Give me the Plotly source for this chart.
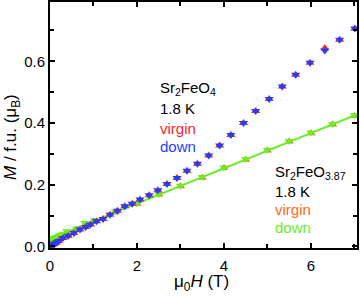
import plotly.graph_objects as go

# Sr2FeO4 (virgin and down nearly identical)
h_fe4 = [0.0, 0.02, 0.05, 0.1, 0.15, 0.2, 0.3, 0.42, 0.55, 0.69, 0.82, 0.93, 1.07, 1.22, 1.38, 1.55, 1.72,
         1.89, 2.07, 2.28, 2.48, 2.69, 2.92, 3.15, 3.39, 3.65, 3.90, 4.16, 4.45, 4.73, 5.04, 5.34, 5.65,
         5.98, 6.32, 6.66, 7.01]
m_fe4_down = [0.0, 0.002, 0.005, 0.009, 0.013, 0.018, 0.027, 0.035, 0.044, 0.055, 0.063, 0.071, 0.082, 0.089,
              0.103, 0.116, 0.130, 0.138, 0.152, 0.166, 0.182, 0.202, 0.222, 0.245, 0.268, 0.295, 0.327,
              0.361, 0.400, 0.439, 0.478, 0.518, 0.556, 0.595, 0.635, 0.670, 0.706]
m_fe4_virgin = [0.0, 0.002, 0.005, 0.009, 0.013, 0.018, 0.027, 0.035, 0.044, 0.055, 0.063, 0.071, 0.082, 0.089,
                0.103, 0.116, 0.130, 0.138, 0.152, 0.166, 0.182, 0.202, 0.222, 0.245, 0.268, 0.295, 0.327,
                0.361, 0.400, 0.439, 0.478, 0.518, 0.556, 0.595, 0.642, 0.670, 0.706]

# Sr2FeO3.87
h_387_down = [0.02, 0.05, 0.1, 0.15, 0.2, 0.25, 0.3, 0.38, 0.61, 0.80, 1.03, 1.5, 2.0, 2.5, 3.0, 3.5, 4.0,
              4.5, 5.0, 5.5, 6.0, 6.5, 7.0]
m_387_down = [0.022, 0.025, 0.028, 0.031, 0.034, 0.037, 0.040, 0.049, 0.058, 0.076, 0.085, 0.113, 0.140,
              0.170, 0.197, 0.225, 0.256, 0.283, 0.313, 0.342, 0.369, 0.397, 0.425]
h_387_virgin = [0.0, 0.05, 0.1, 0.2, 0.3, 0.4, 0.6, 0.8, 1.0, 1.5, 2.0, 2.5, 3.0, 3.5, 4.0, 4.5, 5.0,
                5.5, 6.0, 6.5, 7.0]
m_387_virgin = [0.0, 0.008, 0.014, 0.024, 0.033, 0.041, 0.055, 0.069, 0.082, 0.111, 0.138, 0.168, 0.195,
                0.223, 0.254, 0.281, 0.311, 0.340, 0.367, 0.395, 0.423]

# linear fit for Sr2FeO3.87
fit_h = [0.0, 7.06]
fit_intercept = 0.025
fit_slope = 0.057
fit_m = [fit_intercept + fit_slope * h for h in fit_h]

RED = "#ff1f1f"
BLUE = "#1f3fff"
ORANGE = "#ff6a1a"
GREEN = "#6aee22"

fig = go.Figure()
ms = 8
fig.add_trace(go.Scatter(x=h_387_virgin, y=m_387_virgin, mode="markers",
                         marker=dict(symbol="triangle-up", size=ms, color=ORANGE, line=dict(width=0))))
fig.add_trace(go.Scatter(x=h_387_down, y=m_387_down, mode="markers",
                         marker=dict(symbol="triangle-down", size=ms, color=GREEN, line=dict(width=0))))
fig.add_trace(go.Scatter(x=fit_h, y=fit_m, mode="lines", line=dict(color=GREEN, width=2)))
fig.add_trace(go.Scatter(x=h_fe4, y=m_fe4_virgin, mode="markers",
                         marker=dict(symbol="triangle-up", size=ms, color=RED, line=dict(width=0))))
fig.add_trace(go.Scatter(x=h_fe4, y=m_fe4_down, mode="markers",
                         marker=dict(symbol="triangle-down", size=ms, color=BLUE, line=dict(width=0))))

FONT = "Liberation Sans, Arial, sans-serif"

def ann(x, y, text, color="black", size=15, xanchor="left", angle=0, yanchor="middle"):
    fig.add_annotation(x=x, y=y, xref="paper", yref="paper", text=text, showarrow=False,
                       xanchor=xanchor, yanchor=yanchor, textangle=angle,
                       font=dict(family=FONT, size=size, color=color))

# paper coordinates: plot x from 50 to 357 px, y from 2 to 248 px
def px(x):
    return (x - 50) / 307.0
def py(y):
    return (248 - y) / 246.0

ann(px(158), py(88), "Sr<sub>2</sub>FeO<sub>4</sub>")
ann(px(158), py(108), "1.8 K")
ann(px(158), py(128), "virgin", RED)
ann(px(158), py(147), "down", BLUE)
ann(px(273), py(172), "Sr<sub>2</sub>FeO<sub>3.87</sub>")
ann(px(273), py(191), "1.8 K")
ann(px(273), py(209), "virgin", ORANGE)
ann(px(273), py(227), "down", GREEN)

# axis titles
ann(px(201), py(283), "μ<sub>0</sub><i>H</i> (T)", size=17, xanchor="center")
ann(px(12), py(137), "<i>M</i> / f.u. (μ<sub>B</sub>)", size=17, xanchor="center", angle=-90)

axis_common = dict(showline=True, linecolor="black", linewidth=2, mirror="ticks", ticks="inside",
                   ticklen=5, tickwidth=1.5, tickcolor="black", showgrid=False, zeroline=False,
                   automargin=False,
                   tickfont=dict(family=FONT, size=15, color="black"))
fig.update_xaxes(range=[0, 7.06], tickvals=[0, 2, 4, 6], ticktext=["0", "2", "4", "6"],
                 minor=dict(tickvals=[1, 3, 5, 7], ticks="inside", ticklen=4, tickwidth=1.5, tickcolor="black"),
                 ticklabelstandoff=3,
                 **axis_common)
fig.update_yaxes(range=[-0.005, 0.792], tickvals=[0, 0.2, 0.4, 0.6], ticktext=["0.0", "0.2", "0.4", "0.6"],
                 minor=dict(tickvals=[0.1, 0.3, 0.5, 0.7], ticks="inside", ticklen=4, tickwidth=1.5,
                            tickcolor="black"),
                 **axis_common)
fig.update_layout(width=360, height=296, margin=dict(l=50, r=3, t=2, b=48),
                  plot_bgcolor="white", paper_bgcolor="white", showlegend=False)
fig.write_html("out.html", config={"displayModeBar": False},
               post_script="document.body.style.margin='0';document.body.style.overflow='hidden';")
